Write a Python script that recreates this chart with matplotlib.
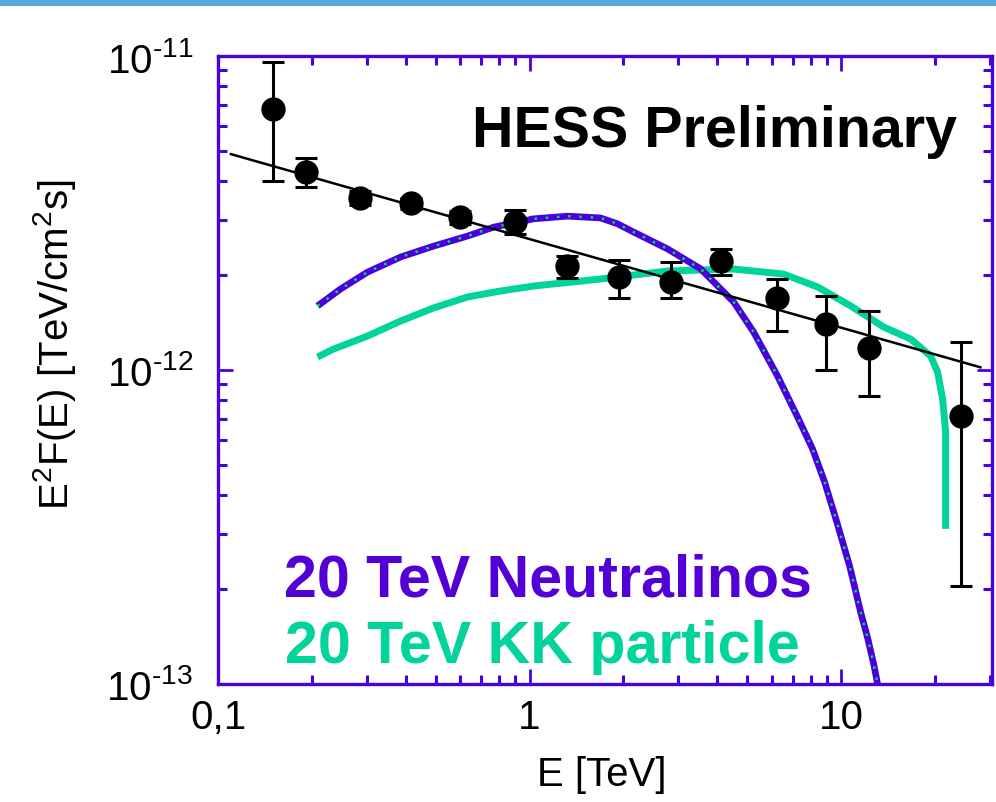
import matplotlib
matplotlib.use('Agg')
import matplotlib.pyplot as plt
from matplotlib.patches import Rectangle
from matplotlib.ticker import LogLocator, FixedLocator, FixedFormatter, NullFormatter

plt.rcParams['font.family'] = ['Liberation Sans', 'DejaVu Sans']
plt.rcParams['mathtext.fontset'] = 'custom'
plt.rcParams['mathtext.rm'] = 'Liberation Sans'
plt.rcParams['mathtext.it'] = 'Liberation Sans:italic'
plt.rcParams['mathtext.bf'] = 'Liberation Sans:bold'
plt.rcParams['mathtext.default'] = 'regular'

# ---------------- data ----------------
energy = [0.15, 0.191, 0.285, 0.415, 0.596, 0.895, 1.32, 1.93, 2.84, 4.13, 6.21, 8.92, 12.3, 24.2]
flux = [6.78e-12, 4.27e-12, 3.53e-12, 3.40e-12, 3.07e-12, 2.96e-12, 2.14e-12,
        1.98e-12, 1.91e-12, 2.22e-12, 1.70e-12, 1.40e-12, 1.175e-12, 7.14e-13]
flux_lo = [4.0e-12, 3.83e-12, 3.35e-12, 3.26e-12, 2.92e-12, 2.71e-12, 1.97e-12,
           1.695e-12, 1.695e-12, 2.006e-12, 1.331e-12, 1.0e-12, 8.26e-13, 2.05e-13]
flux_hi = [9.58e-12, 4.75e-12, 3.71e-12, 3.54e-12, 3.22e-12, 3.23e-12, 2.31e-12,
           2.24e-12, 2.21e-12, 2.43e-12, 1.95e-12, 1.72e-12, 1.54e-12, 1.23e-12]

fit_energy = [0.11, 28.0]
fit_flux = [4.87e-12, 1.02e-12]

neut_energy = [0.2087, 0.2473, 0.302, 0.3855, 0.4917, 0.632, 0.766, 1.03, 1.324, 1.69,
               1.917, 2.157, 2.773, 3.54, 4.52, 5.24, 6.25, 7.30, 8.10, 8.85, 9.67, 10.65,
               11.55, 12.17, 12.72, 13.10, 13.3]
neut_flux = [1.60e-12, 1.811e-12, 2.05e-12, 2.29e-12, 2.48e-12, 2.67e-12, 2.85e-12,
             3.03e-12, 3.09e-12, 3.05e-12, 2.92e-12, 2.75e-12, 2.43e-12, 2.10e-12, 1.647e-12,
             1.32e-12, 9.57e-13, 6.98e-13, 5.60e-13, 4.40e-13, 3.30e-13, 2.375e-13,
             1.695e-13, 1.40e-13, 1.158e-13, 1.0e-13, 9.3e-14]

kk_energy = [0.2087, 0.2349, 0.302, 0.3855, 0.4917, 0.632, 0.807, 1.03, 1.69, 2.773, 4.52,
             6.54, 8.41, 10.73, 13.69, 16.72, 19.38, 20.40, 21.18, 21.65, 21.65]
kk_flux = [1.10e-12, 1.166e-12, 1.283e-12, 1.432e-12, 1.576e-12, 1.708e-12, 1.785e-12,
           1.851e-12, 1.949e-12, 2.067e-12, 2.097e-12, 2.02e-12, 1.838e-12, 1.60e-12,
           1.371e-12, 1.255e-12, 1.108e-12, 9.85e-13, 8.08e-13, 6.35e-13, 3.12e-13]

x_ticks = [0.1, 1, 10]
x_tick_labels = ['0,1', '1', '10']
y_ticks = [1e-13, 1e-12, 1e-11]
y_tick_labels = ['$10^{\u201013}$', '$10^{\u201012}$', '$10^{\u201011}$']

title_text = 'HESS Preliminary'
neut_label = '20 TeV Neutralinos'
kk_label = '20 TeV KK particle'
x_label = 'E [TeV]'
y_label = r'E$^2$F(E) [TeV/cm$^2$s]'

# ---------------- styles ----------------
frame_col = '#4a00e0'
neut_col = '#4a00e0'
neut_text_col = '#5200d6'
dot_col = '#00e632'
kk_col = '#00d49b'

W, H = 996, 803
fig = plt.figure(figsize=(W / 100, H / 100), dpi=100)
fig.patch.set_facecolor('white')
fig.add_artist(Rectangle((0, 1 - 7 / H), 1, 7 / H, transform=fig.transFigure,
                         facecolor='#56aad8', edgecolor='none'))

L, R, T, B = 218, 992, 57, 685
ax = fig.add_axes([L / W, 1 - B / H, (R - L) / W, (B - T) / H])
ax.set_xscale('log')
ax.set_yscale('log')
ax.set_xlim(0.1, 30.5)
ax.set_ylim(1e-13, 1e-11)

# model curves
ax.plot(kk_energy, kk_flux, color=kk_col, lw=5, solid_capstyle='butt',
        solid_joinstyle='round', zorder=2)
ax.plot(neut_energy, neut_flux, color=neut_col, lw=4.8, solid_capstyle='butt',
        solid_joinstyle='round', zorder=3)
ax.plot(neut_energy, neut_flux, color=dot_col, lw=1.8, linestyle=(0, (1, 3.5)), zorder=4)

# fit line
ax.plot(fit_energy, fit_flux, color='black', lw=1.8, zorder=5)

# data points
yerr = [[f - lo for f, lo in zip(flux, flux_lo)], [hi - f for f, hi in zip(flux, flux_hi)]]
ax.errorbar(energy, flux, yerr=yerr, fmt='o', color='black', ms=16.5, elinewidth=2.2,
            capsize=8, capthick=2.2, zorder=6)

# ticks
for side in ['left', 'right', 'top', 'bottom']:
    ax.spines[side].set_color(frame_col)
    ax.spines[side].set_linewidth(2.4)

ax.xaxis.set_major_locator(FixedLocator(x_ticks))
ax.xaxis.set_major_formatter(FixedFormatter(x_tick_labels))
ax.xaxis.set_minor_locator(LogLocator(base=10, subs=range(2, 10)))
ax.xaxis.set_minor_formatter(NullFormatter())
ax.yaxis.set_major_locator(FixedLocator(y_ticks))
ax.yaxis.set_major_formatter(FixedFormatter(y_tick_labels))
ax.yaxis.set_minor_locator(LogLocator(base=10, subs=range(2, 10)))
ax.yaxis.set_minor_formatter(NullFormatter())

ax.tick_params(which='both', direction='in', top=True, right=True, color=frame_col)
ax.tick_params(which='major', length=10.5, width=2.0)
ax.tick_params(which='minor', length=6.5, width=2.2)
ax.tick_params(axis='x', which='major', labelsize=29, pad=10)
ax.tick_params(axis='y', which='major', labelsize=29, pad=18)

# texts
ax.text((472 - L) / (R - L), (B - 147) / (B - T), title_text, transform=ax.transAxes,
        fontsize=41.3, fontweight='bold', color='black', ha='left', va='baseline')
ax.text((284 - L) / (R - L), (B - 597) / (B - T), neut_label, transform=ax.transAxes,
        fontsize=42.6, fontweight='bold', color=neut_text_col, ha='left', va='baseline')
ax.text((285 - L) / (R - L), (B - 663) / (B - T), kk_label, transform=ax.transAxes,
        fontsize=42.6, fontweight='bold', color=kk_col, ha='left', va='baseline')

fig.text(602 / W, 1 - 775 / H, x_label, fontsize=29, ha='center', va='center')
fig.text(54 / W, 1 - 345 / H, y_label, fontsize=29, rotation=90, ha='center', va='center')

fig.savefig('out.png', dpi=100)
